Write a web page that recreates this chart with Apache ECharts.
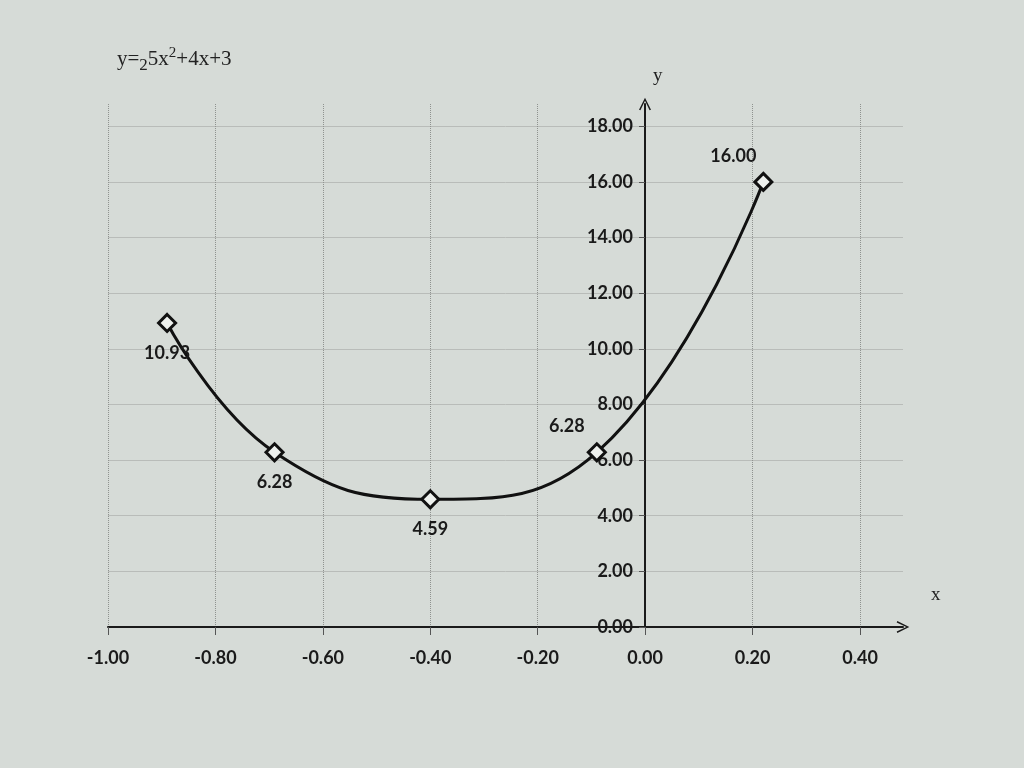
<!DOCTYPE html>
<html><head><meta charset="utf-8">
<script src="https://cdn.jsdelivr.net/npm/echarts@6/dist/echarts.min.js"></script>
<style>html,body{margin:0;padding:0;background:#d6dbd7}#c{width:1024px;height:768px}</style>
</head><body><div id="c"></div>
<script>
const xValues = [-0.89, -0.69, -0.40, -0.09, 0.22];
const yValues = [10.93, 6.28, 4.59, 6.28, 16.00];
const labelPos = ['bottom', 'bottom', 'bottom', 'topLeft', 'topLeft'];
const xTicks = [-1.0, -0.8, -0.6, -0.4, -0.2, 0.0, 0.2, 0.4];
const yTicks = [0, 2, 4, 6, 8, 10, 12, 14, 16, 18];

const chart = echarts.init(document.getElementById('c'));
const labelFont = { fontFamily: 'Lato', fontWeight: 'bold', fontSize: 18, color: '#1a1a1a' };
const chevron = 'path://M0,12 L6,0 L12,12 L10.6,12.6 L6,3 L1.4,12.6 Z';

const data = xValues.map((x, i) => {
  const label = labelPos[i] === 'topLeft'
    ? { position: 'top', offset: [-30, -2] }
    : { position: 'bottom', offset: [0, 6] };
  return { value: [x, yValues[i]], label };
});

const gridLeft = 108, gridRight = 121;
const xMin = -1, xMax = 0.48;
const plotW = 1024 - gridLeft - gridRight;
const yAxisOffset = -Math.round((0 - xMin) / (xMax - xMin) * plotW);

chart.setOption({
  backgroundColor: '#d6dbd7',
  animation: false,
  title: {
    left: 112, top: 40,
    text: '{a|y=}{s|2}{a|5x}{p|2}{a|+4x+3}',
    textStyle: {
      fontWeight: 'normal',
      rich: {
        a: { fontFamily: 'Liberation Serif', fontWeight: 'normal', fontSize: 21, color: '#222' },
        s: { fontFamily: 'Liberation Serif', fontWeight: 'normal', fontSize: 17, color: '#222', padding: [12, 0, 0, 0] },
        p: { fontFamily: 'Liberation Serif', fontWeight: 'normal', fontSize: 15, color: '#222', padding: [0, 0, 13, 0] }
      }
    }
  },
  grid: { left: gridLeft, right: gridRight, top: 104, bottom: 141 },
  xAxis: {
    type: 'value', min: xMin, max: xMax, interval: 0.2,
    name: 'x', nameLocation: 'end', nameGap: 28,
    nameTextStyle: { fontFamily: 'Liberation Serif', fontSize: 19, color: '#222', verticalAlign: 'bottom', padding: [0, 0, 22, 0] },
    axisLine: { onZero: true, lineStyle: { color: '#1a1a1a', width: 2 }, symbol: ['none', chevron], symbolSize: [12, 16] },
    axisTick: { show: true, inside: false, length: 8, lineStyle: { color: '#555', width: 1 } },
    axisLabel: { ...labelFont, margin: 22, showMaxLabel: false, formatter: v => v.toFixed(2) },
    splitLine: { show: true, showMaxLine: false, lineStyle: { color: '#8f928f', type: 'dotted', width: 1 } }
  },
  yAxis: {
    type: 'value', min: 0, max: 18.8, interval: 2,
    position: 'left', offset: yAxisOffset,
    name: 'y', nameLocation: 'end', nameGap: 18,
    nameTextStyle: { fontFamily: 'Liberation Serif', fontSize: 19, color: '#222', align: 'left', padding: [0, 0, 0, 8] },
    axisLine: { onZero: false, lineStyle: { color: '#1a1a1a', width: 2 }, symbol: ['none', chevron], symbolSize: [12, 16] },
    axisTick: { show: true, length: 6, lineStyle: { color: '#555', width: 1 } },
    axisLabel: { ...labelFont, margin: 12, showMaxLabel: false, formatter: v => v.toFixed(2) },
    splitLine: { show: true, showMaxLine: false, lineStyle: { color: '#b9bcb9', width: 1 } }
  },
  series: [{
    type: 'line',
    data: data,
    smooth: 0.45,
    symbol: 'diamond',
    symbolSize: 17,
    lineStyle: { color: '#111', width: 3 },
    itemStyle: { color: '#eef1ee', borderColor: '#111', borderWidth: 3 },
    label: { show: true, ...labelFont, formatter: p => p.value[1].toFixed(2) },
    z: 5
  }]
});
</script></body></html>
